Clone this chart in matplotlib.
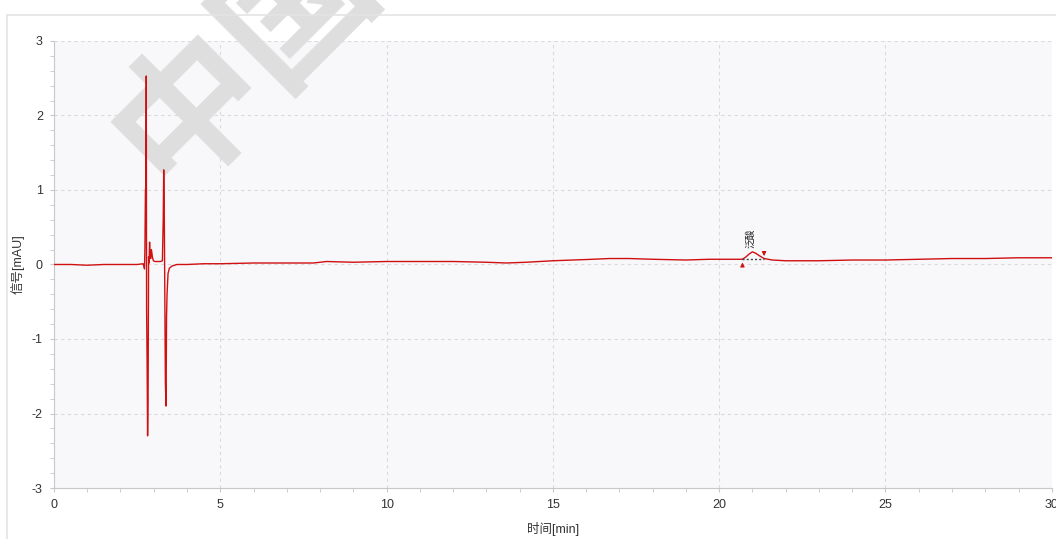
import matplotlib
matplotlib.use('Agg')
import matplotlib.pyplot as plt
from matplotlib.lines import Line2D
from matplotlib.ticker import MultipleLocator

plt.rcParams['font.family'] = ['Liberation Sans', 'Noto Sans CJK SC', 'DejaVu Sans']
plt.rcParams['axes.unicode_minus'] = False

# chromatogram: time [min], signal [mAU]
time_min = [0.0, 0.5, 1.0, 1.5, 2.0, 2.5, 2.68, 2.72, 2.735, 2.75, 2.765, 2.775,
            2.785, 2.80, 2.815, 2.83, 2.845, 2.86, 2.875, 2.89, 2.91, 2.93, 2.96,
            2.99, 3.03, 3.1, 3.2, 3.26, 3.285, 3.30, 3.315, 3.33, 3.35, 3.37,
            3.385, 3.40, 3.43, 3.47, 3.55, 3.7, 4.0, 4.5, 5.0, 6.0, 7.0, 7.8,
            8.2, 9.0, 10.0, 11.0, 12.0, 13.0, 13.6, 14.2, 15.0, 15.6, 16.2,
            16.7, 17.3, 18.0, 19.0, 19.7, 20.3, 20.7, 20.8, 20.9, 21.0, 21.1,
            21.2, 21.35, 21.6, 22.0, 22.5, 23.0, 24.0, 25.0, 26.0, 27.0, 28.0,
            29.0, 30.0]
signal = [0.0, 0.0, -0.01, 0.0, 0.0, 0.0, 0.01, -0.06, 0.2, 1.0, 1.05, 2.53,
          -0.6, -1.3, -2.3, -1.8, 0.1, 0.02, 0.3, 0.1, 0.08, 0.2, 0.1,
          0.05, 0.04, 0.04, 0.04, 0.05, 0.6, 1.27, 0.8, -0.2, -1.6, -1.9,
          -0.7, -0.4, -0.12, -0.05, -0.02, 0.0, 0.0, 0.01, 0.01, 0.02, 0.02, 0.02,
          0.04, 0.03, 0.04, 0.04, 0.04, 0.03, 0.02, 0.03, 0.05, 0.06, 0.07,
          0.08, 0.08, 0.07, 0.06, 0.07, 0.07, 0.07, 0.1, 0.14, 0.17, 0.15,
          0.12, 0.08, 0.06, 0.05, 0.05, 0.05, 0.06, 0.06, 0.07, 0.08, 0.08,
          0.09, 0.09]

peak_name = '泛酸'
peak_start, peak_apex, peak_end = 20.7, 20.95, 21.35
peak_base = 0.07

fig = plt.figure(figsize=(10.56, 5.39), dpi=100)
ax = fig.add_axes([0.0511, 0.0946, 0.9449, 0.8294])
ax.set_facecolor('#f8f8fa')

ax.plot(time_min, signal, color='#d01010', lw=1.0, zorder=3)

# peak integration marks
ax.plot([peak_start, peak_end], [peak_base, peak_base], ls=(0, (1.5, 1.5)),
        color='#444444', lw=1.0, zorder=4)
ax.annotate('', xy=(peak_start, peak_base - 0.005), xytext=(peak_start, peak_base - 0.12),
            arrowprops=dict(arrowstyle='-|>', color='#d01010', lw=0.8,
                            mutation_scale=6), zorder=5)
ax.annotate('', xy=(peak_end, peak_base + 0.005), xytext=(peak_end, peak_base + 0.12),
            arrowprops=dict(arrowstyle='-|>', color='#d01010', lw=0.8,
                            mutation_scale=6), zorder=5)
ax.text(peak_apex, 0.22, peak_name, rotation=90, fontsize=7, ha='center',
        va='bottom', color='#222222', zorder=5)

ax.set_xlim(0, 30)
ax.set_ylim(-3, 3)
ax.xaxis.set_major_locator(MultipleLocator(5))
ax.xaxis.set_minor_locator(MultipleLocator(1))
ax.yaxis.set_major_locator(MultipleLocator(1))
ax.yaxis.set_minor_locator(MultipleLocator(0.2))
ax.grid(True, which='major', ls=(0, (3, 3)), color='#dadade', lw=0.8, zorder=1)
ax.set_axisbelow(True)

for side in ['top', 'right']:
    ax.spines[side].set_visible(False)
for side in ['left', 'bottom']:
    ax.spines[side].set_color('#c8c8c8')
ax.tick_params(which='both', direction='out', length=3, color='#c8c8c8',
               labelsize=9, labelcolor='#333333', pad=5)

ax.set_xlabel('时间[min]', fontsize=9, color='#333333', labelpad=8)
ax.set_ylabel('信号[mAU]', fontsize=9, color='#333333', labelpad=5)

# watermark, under the trace
ax.text(0.232, 0.895, '中国', transform=fig.transFigure, fontsize=108, rotation=45,
        color='#dedede', family=['Noto Sans CJK SC'], weight='bold',
        ha='center', va='center', clip_on=False, zorder=2)

# outer frame
fig.add_artist(Line2D([0.0066, 1.0], [0.972, 0.972], color='#e4e4e4', lw=1.2))
fig.add_artist(Line2D([0.0066, 0.0066], [0.0, 0.972], color='#e4e4e4', lw=1.2))

fig.savefig('out.png', dpi=100)
